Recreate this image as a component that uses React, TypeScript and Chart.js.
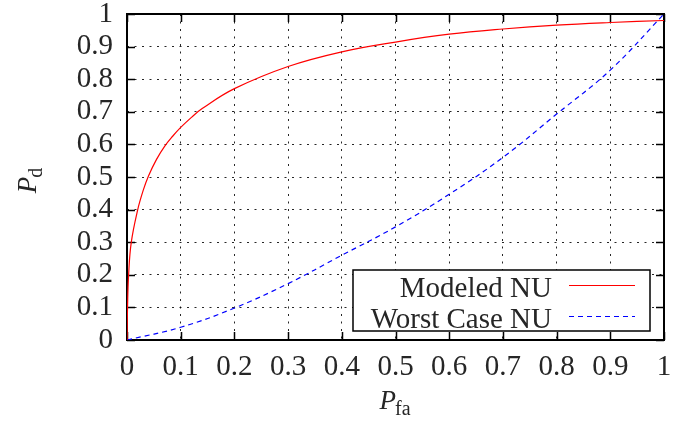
import React, { useEffect, useRef } from "react";
import { Chart, registerables } from "chart.js";

Chart.register(...registerables);

// Modeled NU (red, solid)
const modeledPfa = [0, 0.001, 0.003, 0.008, 0.02, 0.03, 0.04, 0.055, 0.07, 0.085, 0.1, 0.12, 0.14, 0.2, 0.3, 0.4, 0.5, 0.6, 0.7, 0.8, 0.9, 1];
const modeledPd = [0, 0.1, 0.2, 0.3, 0.4, 0.458, 0.503, 0.554, 0.594, 0.625, 0.652, 0.683, 0.71, 0.771, 0.839, 0.884, 0.914, 0.938, 0.954, 0.966, 0.974, 0.98];

// Worst Case NU (blue, dashed)
const worstPfa = [0, 0.1, 0.2, 0.3, 0.4, 0.5, 0.6, 0.7, 0.8, 0.9, 1];
const worstPd = [0, 0.039, 0.098, 0.173, 0.26, 0.347, 0.447, 0.56, 0.693, 0.828, 1];

const xTickLabels = ["0", "0.1", "0.2", "0.3", "0.4", "0.5", "0.6", "0.7", "0.8", "0.9", "1"];
const yTickLabels = ["0", "0.1", "0.2", "0.3", "0.4", "0.5", "0.6", "0.7", "0.8", "0.9", "1"];

const seriesLabels = ["Modeled NU", "Worst Case NU"];
const xTitleMain = "P";
const xTitleSub = "fa";
const yTitleMain = "P";
const yTitleSub = "d";

const FONT = "'Liberation Serif', 'Times New Roman', serif";
const TEXT = "#262626";

const framePlugin = {
  id: "gnuFrame",
  beforeDatasetsDraw(chart: any) {
    const { ctx, chartArea: a, scales } = chart;
    ctx.save();
    ctx.strokeStyle = "#000";
    ctx.lineWidth = 1.5;
    const tl = 8;
    ctx.beginPath();
    scales.x.ticks.forEach((t: any) => {
      const px = Math.round(scales.x.getPixelForValue(t.value)) + 0.5;
      ctx.moveTo(px, a.bottom);
      ctx.lineTo(px, a.bottom - tl);
      ctx.moveTo(px, a.top);
      ctx.lineTo(px, a.top + tl);
    });
    scales.y.ticks.forEach((t: any) => {
      const py = Math.round(scales.y.getPixelForValue(t.value)) + 0.5;
      ctx.moveTo(a.left, py);
      ctx.lineTo(a.left + tl, py);
      ctx.moveTo(a.right, py);
      ctx.lineTo(a.right - tl, py);
    });
    ctx.stroke();
    ctx.lineWidth = 2;
    ctx.strokeRect(a.left, a.top, a.right - a.left, a.bottom - a.top);
    ctx.restore();
  },
  afterDraw(chart: any) {
    const { ctx, chartArea: a } = chart;
    ctx.save();
    ctx.fillStyle = TEXT;
    // X title
    ctx.textBaseline = "alphabetic";
    ctx.font = `italic 27px ${FONT}`;
    const wP = ctx.measureText(xTitleMain).width;
    ctx.font = `20px ${FONT}`;
    const wS = ctx.measureText(xTitleSub).width;
    const cx = (a.left + a.right) / 2;
    const x0 = cx - (wP + wS) / 2;
    ctx.font = `italic 27px ${FONT}`;
    ctx.fillText(xTitleMain, x0, 409);
    ctx.font = `20px ${FONT}`;
    ctx.fillText(xTitleSub, x0 + wP - 1, 415);

    // Y title (rotated)
    ctx.save();
    ctx.translate(36, 180);
    ctx.rotate(-Math.PI / 2);
    ctx.font = `italic 27px ${FONT}`;
    const wP2 = ctx.measureText(yTitleMain).width;
    ctx.font = `20px ${FONT}`;
    const wS2 = ctx.measureText(yTitleSub).width;
    const s0 = -(wP2 + wS2) / 2;
    ctx.font = `italic 27px ${FONT}`;
    ctx.fillText(yTitleMain, s0, 0);
    ctx.font = `20px ${FONT}`;
    ctx.fillText(yTitleSub, s0 + wP2 - 1, 6);
    ctx.restore();

    // Legend
    const bw = 297, bh = 61;
    const bx = a.right - 14 - bw;
    const by = a.bottom - 9 - bh;
    ctx.fillStyle = "#fff";
    ctx.fillRect(bx, by, bw, bh);
    ctx.strokeStyle = "#000";
    ctx.lineWidth = 1.5;
    ctx.strokeRect(bx, by, bw, bh);
    ctx.font = `29px ${FONT}`;
    ctx.textAlign = "right";
    chart.data.datasets.forEach((ds: any, i: number) => {
      const base = by + 27 + i * 31;
      ctx.fillStyle = TEXT;
      ctx.fillText(ds.label, bx + 199, base);
      ctx.beginPath();
      ctx.strokeStyle = ds.borderColor;
      ctx.lineWidth = 1.2;
      ctx.setLineDash(ds.borderDash || []);
      ctx.moveTo(bx + 216, base - 12 + 0.5);
      ctx.lineTo(bx + 282, base - 12 + 0.5);
      ctx.stroke();
      ctx.setLineDash([]);
    });
    ctx.restore();
  },
};

export default function App() {
  const ref = useRef<HTMLCanvasElement>(null);
  useEffect(() => {
    if (!ref.current) return;
    const chart = new Chart(ref.current, {
      type: "line",
      data: {
        datasets: [
          {
            label: seriesLabels[0],
            data: modeledPfa.map((x, i) => ({ x, y: modeledPd[i] })),
            borderColor: "#ff0000",
            borderWidth: 1.2,
            pointRadius: 0,
            tension: 0.4,
            fill: false,
          },
          {
            label: seriesLabels[1],
            data: worstPfa.map((x, i) => ({ x, y: worstPd[i] })),
            borderColor: "#0000ff",
            borderWidth: 1.2,
            borderDash: [5, 4],
            pointRadius: 0,
            tension: 0.4,
            fill: false,
          },
        ],
      },
      plugins: [framePlugin],
      options: {
        animation: false,
        responsive: false,
        layout: { padding: { top: 14, right: 31, left: 0, bottom: 0 } },
        plugins: { legend: { display: false }, tooltip: { enabled: false } },
        scales: {
          x: {
            type: "linear",
            min: 0,
            max: 1,
            afterBuildTicks: (s: any) => {
              s.ticks = xTickLabels.map((l) => ({ value: parseFloat(l) }));
            },
            afterFit: (s: any) => {
              s.height = 81;
              s.paddingLeft = 0;
              s.paddingRight = 0;
            },
            ticks: {
              autoSkip: false,
              maxRotation: 0,
              padding: 10,
              color: TEXT,
              font: { family: FONT, size: 29 },
              callback: (_v: any, i: number) => xTickLabels[i],
            },
            grid: { drawTicks: false, color: "rgba(0,0,0,0.85)", lineWidth: 1 },
            border: { display: false, dash: [2, 5.5] },
          },
          y: {
            type: "linear",
            min: 0,
            max: 1,
            afterBuildTicks: (s: any) => {
              s.ticks = yTickLabels.map((l) => ({ value: parseFloat(l) }));
            },
            afterFit: (s: any) => {
              s.width = 127;
              s.paddingTop = 0;
              s.paddingBottom = 0;
            },
            ticks: {
              autoSkip: false,
              padding: 14,
              color: TEXT,
              font: { family: FONT, size: 29 },
              callback: (_v: any, i: number) => yTickLabels[i],
            },
            grid: { drawTicks: false, color: "rgba(0,0,0,0.85)", lineWidth: 1 },
            border: { display: false, dash: [2, 5.5] },
          },
        },
      },
    } as any);
    return () => chart.destroy();
  }, []);
  return (
    <div style={{ position: "absolute", left: 0, top: 0, width: 695, height: 421, background: "#fff" }}>
      <canvas ref={ref} width={695} height={421} style={{ display: "block" }} />
    </div>
  );
}
